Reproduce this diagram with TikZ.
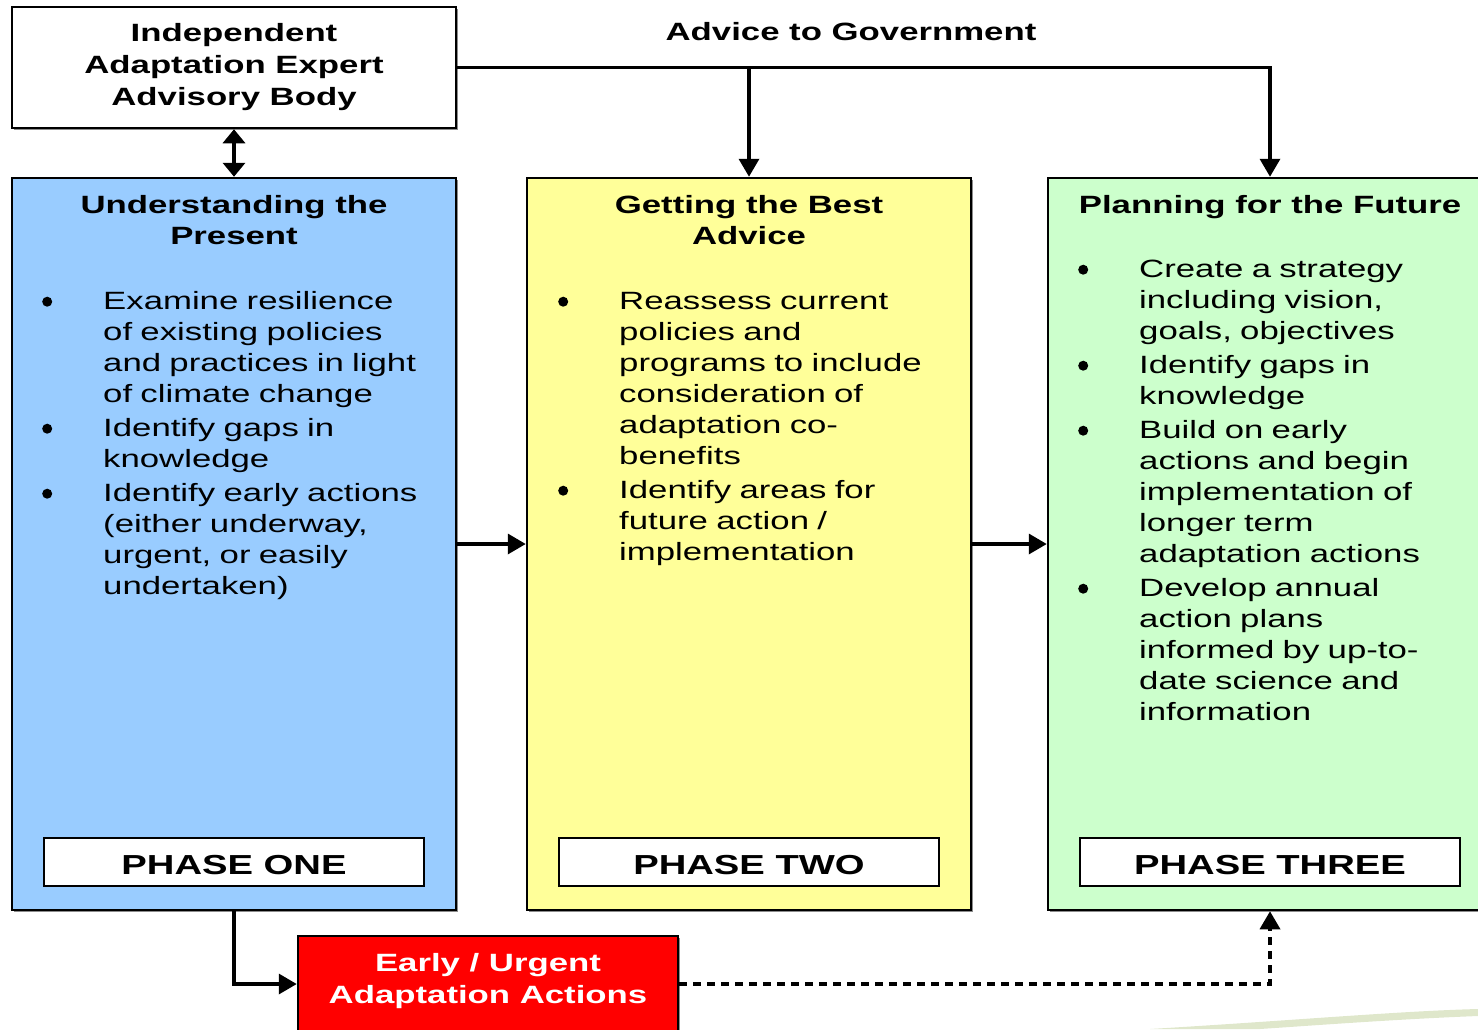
\documentclass[tikz,border=0pt]{standalone}
\usepackage{fontspec}
\setmainfont[FakeStretch=1.39]{Liberation Sans}
\usepackage{enumitem}
\usetikzlibrary{arrows.meta}
\usetikzlibrary{shadows}

\definecolor{phaseblue}{HTML}{99CCFF}
\definecolor{phaseyellow}{HTML}{FFFF99}
\definecolor{phasegreen}{HTML}{CCFFCC}
\definecolor{urgentred}{HTML}{FF0000}
\definecolor{swooshgreen}{HTML}{C9D7A8}

\newlist{steps}{itemize}{1}
\setlist[steps]{label={\tikz[baseline=-7.5pt]\fill (0,0) circle (5pt);}, leftmargin=73pt, labelsep=51pt, nosep, itemsep=3pt}

\tikzset{
  boxshadow/.style={drop shadow={shadow xshift=2pt, shadow yshift=-2pt, fill=black!45, opacity=1}},
  panel/.style={draw, line width=2.5pt, minimum width=444, minimum height=732, boxshadow},
  phaselabel/.style={draw, fill=white, line width=2.5pt, minimum width=380, minimum height=48,
    inner sep=0pt, text height=25pt, text depth=0pt, font=\fontsize{27.5}{33}\selectfont\bfseries},
  heading/.style={align=center, inner sep=0pt, font=\fontsize{25}{31}\selectfont\bfseries},
  steplist/.style={anchor=north west, inner sep=0pt, text width=410pt, font=\fontsize{25}{31}\selectfont},
  arr/.style={line width=3.5pt, -{Triangle[length=18pt,width=20pt]}},
}

\begin{document}
\begin{tikzpicture}[x=1pt, y=-1pt]

      \useasboundingbox (0,0) rectangle (1478,1029);
      \clip (0,0) rectangle (1478,1029);

      \fill[swooshgreen, opacity=0.6] (1150,1029) .. controls (1300,1020) and (1400,1011) .. (1478,1009)
        -- (1478,1016) .. controls (1400,1019) and (1320,1025) .. (1260,1029) -- cycle;

      \node[draw, fill=white, line width=2.5pt, minimum width=444, minimum height=121, boxshadow,
        align=center, font=\fontsize{25}{32}\selectfont\bfseries] (body) at (234,67.5)
        {Independent\\Adaptation Expert\\Advisory Body};
      \node[font=\fontsize{25}{31}\selectfont\bfseries] (advice) at (851,32) {Advice to Government};

      \node[panel, fill=phaseblue] (p1) at (234,544) {};
      \node[panel, fill=phaseyellow] (p2) at (749,544) {};
      \node[panel, fill=phasegreen] (p3) at (1270,544) {};

      \node[heading] (h1) at (234,220) {Understanding the\\Present};
      \node[heading] (h2) at (749,220) {Getting the Best\\Advice};
      \node[heading] (h3) at (1270,207) {Planning for the Future};

      \node[steplist] (l1) at (30,278) {\begin{steps}
        \item Examine resilience\\of existing policies\\and practices in light\\of climate change
        \item Identify gaps in\\knowledge
        \item Identify early actions\\(either underway,\\urgent, or easily\\undertaken)
      \end{steps}};
      \node[steplist] (l2) at (546,278) {\begin{steps}
        \item Reassess current\\policies and\\programs to include\\consideration of\\adaptation co-\\benefits
        \item Identify areas for\\future action /\\implementation
      \end{steps}};
      \node[steplist] (l3) at (1066,246) {\begin{steps}
        \item Create a strategy\\including vision,\\goals, objectives
        \item Identify gaps in\\knowledge
        \item Build on early\\actions and begin\\implementation of\\longer term\\adaptation actions
        \item Develop annual\\action plans\\informed by up-to-\\date science and\\information
      \end{steps}};

      \node[phaselabel] (ph1) at (234,862) {PHASE ONE};
      \node[phaselabel] (ph2) at (749,862) {PHASE TWO};
      \node[phaselabel] (ph3) at (1270,862) {PHASE THREE};

      \node[draw, fill=urgentred, line width=2.5pt, minimum width=380, minimum height=96, boxshadow] (early) at (488,984) {};
      \node[heading, text=white, font=\fontsize{25}{32}\selectfont\bfseries] (earlytext) at (488,981)
        {Early / Urgent\\Adaptation Actions};

      \draw[line width=3.5pt, {Triangle[length=14pt,width=22pt]}-{Triangle[length=14pt,width=22pt]}] (body.south) -- (p1.north);
      \draw[arr] (body.east) -| (p3.north);
      \draw[arr] (body.east -| p2.north) -- (p2.north);
      \draw[arr] (p1.east) -- (p2.west);
      \draw[arr] (p2.east) -- (p3.west);
      \draw[arr] (p1.south) |- (early.west);
      \draw[arr, dash pattern=on 8pt off 6pt] (early.east) -| (p3.south);
    \end{tikzpicture}
\end{document}
